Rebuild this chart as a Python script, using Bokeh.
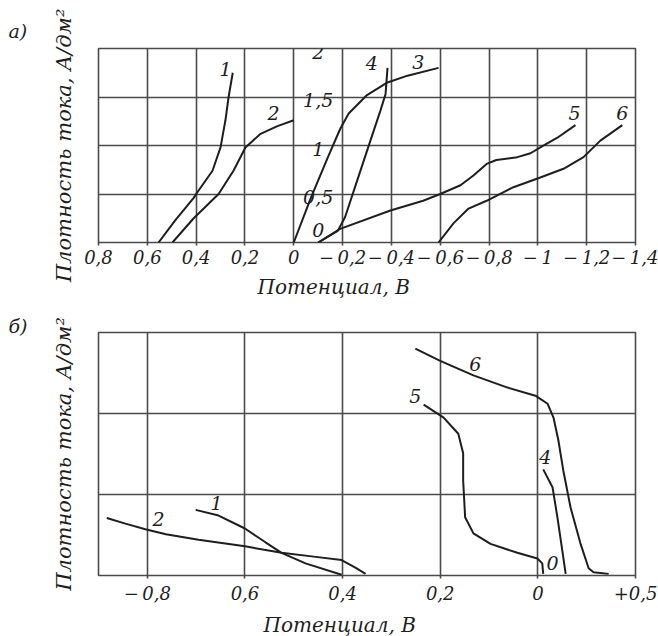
from bokeh.plotting import figure
from bokeh.layouts import column
from bokeh.models import Range1d, FixedTicker, LabelSet, ColumnDataSource, Title
from bokeh.core.properties import value
from bokeh.embed import file_html
from bokeh.resources import INLINE

FONT = "DejaVu Serif"
INK = "#1e1e1e"
GRID = "#4a4a4a"
M = "\u2212\u2009"  # minus sign + thin space

# ---------------- panel а) ----------------
a_xticks = [0.8, 0.6, 0.4, 0.2, 0.0, -0.2, -0.4, -0.6, -0.8, -1.0, -1.2, -1.4]
a_xlabels = ["0,8", "0,6", "0,4", "0,2", "0", M + "0,2", M + "0,4", M + "0,6",
             M + "0,8", M + "1", M + "1,2", M + "1,4"]
a_yticks = [0.0, 0.5, 1.0, 1.5, 2.0]
a_ylabels = ["0", "0,5", "1", "1,5", "2"]

a1_x = [0.554, 0.485, 0.41, 0.40, 0.333, 0.30, 0.28, 0.267, 0.25]
a1_y = [0.0, 0.23, 0.46, 0.5, 0.74, 0.98, 1.26, 1.5, 1.75]
a2_x = [0.497, 0.41, 0.308, 0.247, 0.198, 0.136, 0.067, 0.0]
a2_y = [0.0, 0.25, 0.5, 0.74, 0.98, 1.12, 1.2, 1.26]
a3_x = [0.0, -0.07, -0.14, -0.19, -0.225, -0.30, -0.384, -0.466, -0.593]
a3_y = [0.0, 0.46, 0.88, 1.17, 1.33, 1.52, 1.65, 1.72, 1.80]
a4_x = [-0.10, -0.18, -0.21, -0.26, -0.314, -0.355, -0.376, -0.384]
a4_y = [0.0, 0.12, 0.26, 0.64, 1.05, 1.36, 1.53, 1.80]
a5_x = [-0.10, -0.19, -0.396, -0.53, -0.60, -0.683, -0.736, -0.79, -0.83,
        -0.916, -0.97, -1.01, -1.08, -1.154]
a5_y = [0.0, 0.14, 0.33, 0.43, 0.5, 0.59, 0.69, 0.81, 0.85, 0.88, 0.92,
        0.98, 1.08, 1.21]
a6_x = [-0.593, -0.655, -0.716, -0.79, -0.90, -1.01, -1.105, -1.187, -1.256, -1.346]
a6_y = [0.0, 0.2, 0.35, 0.43, 0.57, 0.67, 0.76, 0.88, 1.05, 1.21]
a_curves = [(a1_x, a1_y), (a2_x, a2_y), (a3_x, a3_y), (a4_x, a4_y),
            (a5_x, a5_y), (a6_x, a6_y)]
a_tag_text = ["1", "2", "3", "4", "5", "6"]
a_tag_x = [0.28, 0.083, -0.51, -0.32, -1.15, -1.346]
a_tag_y = [1.79, 1.34, 1.86, 1.85, 1.33, 1.33]

# ---------------- panel б) ----------------
b_xticks = [0.8, 0.6, 0.4, 0.2, 0.0, -0.2]
b_xlabels = [M + "0,8", "0,6", "0,4", "0,2", "0", "+0,5"]
b_yticks = [1.0, 2.0]

b1_x = [0.701, 0.654, 0.6, 0.558, 0.525, 0.476, 0.402]
b1_y = [0.81, 0.74, 0.58, 0.41, 0.28, 0.15, 0.01]
b2_x = [0.883, 0.845, 0.804, 0.762, 0.695, 0.6, 0.525, 0.455, 0.402, 0.372, 0.353]
b2_y = [0.71, 0.64, 0.57, 0.51, 0.44, 0.36, 0.28, 0.23, 0.19, 0.09, 0.02]
b4_x = [-0.011, -0.03, -0.04, -0.05, -0.057]
b4_y = [1.31, 1.09, 0.72, 0.31, 0.02]
b5_x = [0.234, 0.193, 0.163, 0.153, 0.153, 0.149, 0.132, 0.097, 0.042, 0.001,
        -0.009, -0.011]
b5_y = [2.11, 1.95, 1.75, 1.51, 1.17, 0.72, 0.52, 0.39, 0.28, 0.21, 0.15, 0.02]
b6_x = [0.251, 0.2, 0.132, 0.062, 0.005, -0.02, -0.032, -0.042, -0.052, -0.067,
        -0.087, -0.104, -0.114, -0.145]
b6_y = [2.80, 2.65, 2.47, 2.32, 2.22, 2.12, 1.95, 1.67, 1.30, 0.84, 0.40, 0.09,
        0.04, 0.02]
b_curves = [(b1_x, b1_y), (b2_x, b2_y), (b4_x, b4_y), (b5_x, b5_y), (b6_x, b6_y)]
b_tag_text = ["1", "2", "4", "5", "6", "0"]
b_tag_x = [0.658, 0.777, -0.015, 0.251, 0.128, -0.03]
b_tag_y = [0.89, 0.70, 1.46, 2.22, 2.61, 0.15]

Y_TITLE = "Плотность тока, А/дм²"
X_TITLE = "Потенциал, В"


def make_panel(xr, yr, xticks, xlabels, yticks, fh, top, bottom):
    p = figure(x_range=Range1d(*xr), y_range=Range1d(*yr),
               frame_width=537, frame_height=fh,
               min_border_left=98, min_border_right=23,
               min_border_top=top, min_border_bottom=bottom,
               output_backend="svg", toolbar_location=None)
    p.outline_line_color = GRID
    p.outline_line_width = 1.6
    p.background_fill_color = "white"
    p.border_fill_color = "white"
    p.xaxis.ticker = FixedTicker(ticks=xticks)
    p.xaxis.major_label_overrides = dict(zip(xticks, xlabels))
    p.xaxis.minor_tick_line_color = None
    p.xaxis.major_tick_in = 0
    p.xaxis.major_tick_out = 3
    p.xaxis.major_tick_line_color = GRID
    p.xaxis.major_tick_line_width = 1.6
    p.xaxis.axis_line_color = None
    p.xaxis.major_label_standoff = 1
    p.xaxis.major_label_text_font = FONT
    p.xaxis.major_label_text_font_style = "italic"
    p.xaxis.major_label_text_font_size = "18px"
    p.xaxis.major_label_text_color = INK
    p.yaxis.ticker = FixedTicker(ticks=[])
    p.ygrid.ticker = FixedTicker(ticks=yticks)
    p.yaxis.major_tick_line_color = None
    p.yaxis.minor_tick_line_color = None
    p.yaxis.axis_line_color = None
    p.yaxis.axis_label = Y_TITLE
    p.yaxis.axis_label_standoff = 23
    p.yaxis.axis_label_text_font = FONT
    p.yaxis.axis_label_text_font_style = "italic"
    p.yaxis.axis_label_text_font_size = "21px"
    p.yaxis.axis_label_text_color = INK
    p.grid.grid_line_color = GRID
    p.grid.grid_line_width = 1.6
    return p


def add_title(p, text, place, align, offset, standoff, size):
    p.add_layout(Title(text=text, align=align, offset=offset, standoff=standoff,
                       text_font=FONT, text_font_style="italic",
                       text_font_size=size, text_color=INK), place)


# panel а
pa = make_panel((0.8, -1.4), (0.0, 2.0), a_xticks, a_xlabels, a_yticks, 194, 48, 58)
for cx, cy in a_curves:
    pa.line(cx, cy, line_color=INK, line_width=2)
pa.text(x=a_tag_x, y=a_tag_y, text=a_tag_text, text_font=value(FONT),
        text_font_style="italic", text_font_size="19px", text_color=INK,
        text_align="center", text_baseline="middle")
ysrc = ColumnDataSource(dict(x=[-0.1] * len(a_yticks), y=a_yticks, t=a_ylabels,
                             dy=[13 if v == 0 else -3 for v in a_yticks]))
pa.add_layout(LabelSet(x="x", y="y", text="t", source=ysrc, y_offset="dy",
                       text_font=value(FONT), text_font_style="italic",
                       text_font_size="19px", text_color=INK,
                       text_align="center", text_baseline="middle"))
add_title(pa, "а)", "above", "left", -90, 13, "19px")
add_title(pa, X_TITLE, "below", "left", 159, 4, "20px")

# panel б
pb = make_panel((0.9, -0.2), (0.0, 3.0), b_xticks, b_xlabels, b_yticks, 243, 32, 61)
pb.xaxis.major_label_standoff = 4
for cx, cy in b_curves:
    pb.line(cx, cy, line_color=INK, line_width=2)
pb.text(x=b_tag_x, y=b_tag_y, text=b_tag_text, text_font=value(FONT),
        text_font_style="italic", text_font_size="19px", text_color=INK,
        text_align="center", text_baseline="middle")
add_title(pb, "б)", "above", "left", -90, -8, "19px")
add_title(pb, X_TITLE, "below", "left", 165, 8, "20px")

layout = column(pa, pb, spacing=0)
open("out.html", "w").write(file_html(layout, INLINE))
